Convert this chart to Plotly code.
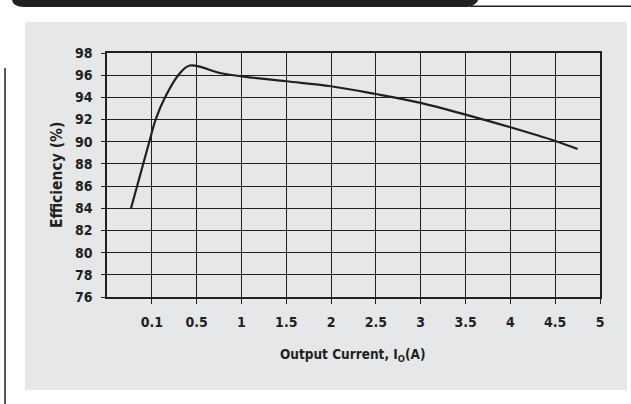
import numpy as np
import plotly.graph_objects as go

# ---- data ----
axis_amps = [0, 0.1, 0.5, 1, 1.5, 2, 2.5, 3, 3.5, 4, 4.5, 5]   # nonuniform axis: left edge + ticks (A)
tick_amps = [0.1, 0.5, 1, 1.5, 2, 2.5, 3, 3.5, 4, 4.5, 5]
tick_labels = ["0.1", "0.5", "1", "1.5", "2", "2.5", "3", "3.5", "4", "4.5", "5"]
y_ticks = [76, 78, 80, 82, 84, 86, 88, 90, 92, 94, 96, 98]

current_a = [0.0536, 0.0944, 0.134, 0.218, 0.336, 0.44, 0.76,
             1.0, 1.5, 2.0, 2.5, 3.0, 3.5, 4.0, 4.5, 4.75]
efficiency = [84.0, 90.0, 92.0, 94.0, 96.0, 96.87, 96.2,
              95.9, 95.45, 95.0, 94.3, 93.5, 92.44, 91.3, 90.07, 89.35]

positions = list(range(len(axis_amps)))
x_pos = np.interp(current_a, axis_amps, positions)
tick_pos = np.interp(tick_amps, axis_amps, positions)

W, H = 631, 404
L, R, T, B = 107, 31, 53, 107
PW, PH = W - L - R, H - T - B

def X(px):
    return (px - L) / PW

def Y(py):
    return (H - B - py) / PH

INK = "#231f20"
FONT = "DejaVu Sans Condensed, sans-serif"

fig = go.Figure()
fig.add_trace(go.Scatter(
    x=x_pos, y=efficiency, mode="lines",
    line=dict(color=INK, width=2.2, shape="spline", smoothing=1.0),
    hoverinfo="skip", showlegend=False,
))

shapes = []
shapes.append(dict(type="rect", xref="paper", yref="paper",
                   x0=X(25), x1=X(627), y0=Y(390), y1=Y(22),
                   fillcolor="#e6e7e8", line=dict(width=0), layer="below"))
path = "M {a},{b} L {c},{d} Q {e},{f} {g},{h} L {i},{j} Q {k},{l} {m},{n} L {o},{p} Z".format(
    a=X(12), b=Y(-3), c=X(12), d=Y(0), e=X(13), f=Y(7), g=X(24), h=Y(7),
    i=X(466), j=Y(7), k=X(473), l=Y(7), m=X(477), n=Y(2), o=X(480), p=Y(-3))
shapes.append(dict(type="path", xref="paper", yref="paper", path=path,
                   fillcolor=INK, line=dict(width=0), layer="below"))
shapes.append(dict(type="line", xref="paper", yref="paper",
                   x0=X(470), x1=X(632), y0=Y(6.3), y1=Y(6.3),
                   line=dict(color=INK, width=1.5), layer="below"))
shapes.append(dict(type="line", xref="paper", yref="paper",
                   x0=X(5), x1=X(5), y0=Y(68), y1=Y(406),
                   line=dict(color=INK, width=1.5), layer="below"))

fig.update_layout(
    width=W, height=H,
    margin=dict(l=L, r=R, t=T, b=B, pad=0),
    paper_bgcolor="white", plot_bgcolor="white",
    font=dict(family=FONT, color=INK, size=14),
    shapes=shapes,
    annotations=[
        dict(text="<b>Output Current, I<sub>O</sub>(A)</b>", xref="paper", yref="paper",
             x=X(352), y=Y(355), showarrow=False, xanchor="center", yanchor="middle",
             font=dict(family=FONT, size=13.5, color=INK)),
        dict(text="<b>Efficiency (%)</b>", xref="paper", yref="paper",
             x=X(57), y=Y(175), showarrow=False, textangle=-90,
             xanchor="center", yanchor="middle",
             font=dict(family=FONT, size=15.5, color=INK)),
    ],
)

fig.update_xaxes(
    range=[0, len(axis_amps) - 1], tickmode="array",
    tickvals=tick_pos, ticktext=["<b>%s</b>" % t for t in tick_labels],
    showgrid=True, gridcolor=INK, gridwidth=1.3,
    showline=True, linecolor=INK, linewidth=1.5, mirror=True,
    ticks="outside", ticklen=5, tickcolor=INK, tickwidth=1.3,
    ticklabelstandoff=6, zeroline=False,
    tickfont=dict(family=FONT, size=14, color=INK),
)
fig.update_yaxes(
    range=[76, 98], tickmode="array", tickvals=y_ticks,
    ticktext=["<b>%d</b>" % v for v in y_ticks],
    showgrid=True, gridcolor=INK, gridwidth=1.3,
    showline=True, linecolor=INK, linewidth=1.5, mirror=True,
    ticks="outside", ticklen=4, tickcolor=INK, tickwidth=1.3,
    ticklabelstandoff=6, zeroline=False,
    tickfont=dict(family=FONT, size=14, color=INK),
)

fig.write_html("out.html", config={"displayModeBar": False},
               post_script="document.body.style.margin='0';document.body.style.overflow='hidden';")
